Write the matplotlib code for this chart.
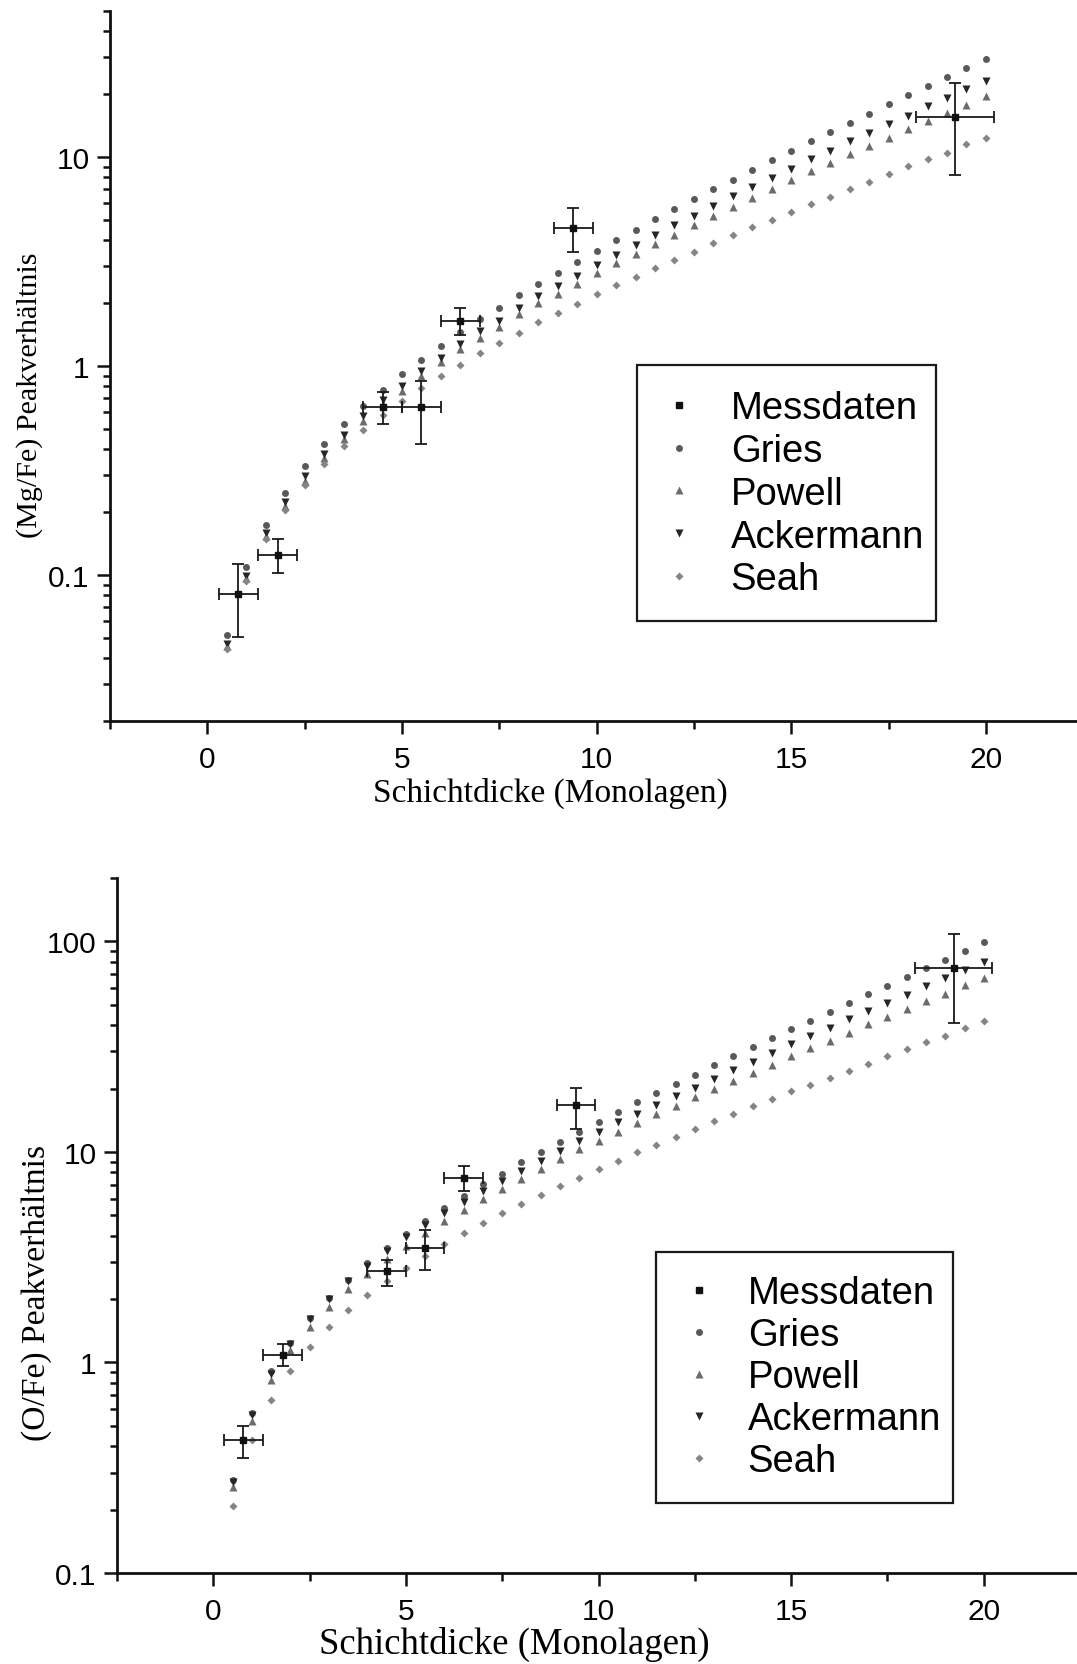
import matplotlib
matplotlib.use("Agg")
import numpy as np
import matplotlib.pyplot as plt
from matplotlib.ticker import LogLocator, MultipleLocator, FuncFormatter, NullFormatter
from matplotlib.patches import Rectangle

# ---------------------------------------------------------------------------
# Data
# ---------------------------------------------------------------------------
thickness = [0.5, 1.0, 1.5, 2.0, 2.5, 3.0, 3.5, 4.0, 4.5, 5.0,
             5.5, 6.0, 6.5, 7.0, 7.5, 8.0, 8.5, 9.0, 9.5, 10.0,
             10.5, 11.0, 11.5, 12.0, 12.5, 13.0, 13.5, 14.0, 14.5, 15.0,
             15.5, 16.0, 16.5, 17.0, 17.5, 18.0, 18.5, 19.0, 19.5, 20.0]

# (Mg/Fe) model curves
mg_gries = [0.0514, 0.109, 0.174, 0.247, 0.331, 0.422, 0.526, 0.643, 0.767, 0.912,
            1.07, 1.24, 1.45, 1.67, 1.90, 2.19, 2.47, 2.79, 3.16, 3.57,
            4.00, 4.49, 5.05, 5.64, 6.29, 7.03, 7.78, 8.66, 9.63, 10.7,
            11.9, 13.2, 14.6, 16.1, 17.9, 19.8, 21.9, 24.2, 26.7, 29.4]
mg_powell = [0.0456, 0.0962, 0.153, 0.214, 0.282, 0.361, 0.447, 0.547, 0.656, 0.759,
             0.893, 1.04, 1.21, 1.36, 1.53, 1.78, 2.00, 2.21, 2.47, 2.78,
             3.10, 3.44, 3.83, 4.25, 4.72, 5.21, 5.75, 6.37, 7.03, 7.76,
             8.54, 9.36, 10.3, 11.3, 12.4, 13.6, 14.9, 16.3, 17.8, 19.5]
mg_ackermann = [0.0466, 0.0988, 0.158, 0.224, 0.296, 0.379, 0.467, 0.574, 0.687, 0.800,
                0.949, 1.09, 1.28, 1.47, 1.65, 1.90, 2.16, 2.41, 2.71, 3.05,
                3.40, 3.81, 4.25, 4.72, 5.25, 5.82, 6.50, 7.18, 7.96, 8.79,
                9.75, 10.7, 11.9, 13.1, 14.4, 15.8, 17.5, 19.2, 21.2, 23.2]
mg_seah = [0.0444, 0.0936, 0.148, 0.205, 0.269, 0.338, 0.414, 0.492, 0.582, 0.677,
           0.785, 0.893, 1.01, 1.15, 1.29, 1.44, 1.62, 1.79, 1.98, 2.20,
           2.44, 2.68, 2.94, 3.22, 3.53, 3.86, 4.23, 4.62, 5.01, 5.47,
           5.96, 6.47, 7.05, 7.62, 8.30, 9.02, 9.75, 10.5, 11.5, 12.3]

# (Mg/Fe) measurements
mg_meas_x = [0.80, 1.81, 4.50, 5.50, 6.50, 9.40, 19.20]
mg_meas_xerr = [0.5, 0.5, 0.5, 0.5, 0.5, 0.5, 1.0]
mg_meas_y = [0.0815, 0.125, 0.638, 0.638, 1.65, 4.60, 15.5]
mg_meas_lo = [0.0507, 0.102, 0.526, 0.425, 1.41, 3.53, 8.22]
mg_meas_hi = [0.113, 0.148, 0.748, 0.851, 1.89, 5.70, 22.7]

# (O/Fe) model curves
o_gries = [0.277, 0.574, 0.91, 1.24, 1.63, 2.03, 2.47, 2.97, 3.51, 4.08,
           4.71, 5.42, 6.18, 7.03, 7.89, 8.91, 9.98, 11.2, 12.5, 13.9,
           15.4, 17.2, 19.0, 21.1, 23.3, 25.8, 28.6, 31.5, 34.6, 38.2,
           42.0, 46.2, 50.9, 56.0, 61.5, 67.7, 74.4, 81.8, 90.0, 98.9]
o_powell = [0.257, 0.529, 0.826, 1.14, 1.48, 1.84, 2.23, 2.63, 3.10, 3.59,
            4.12, 4.69, 5.31, 5.97, 6.68, 7.45, 8.32, 9.24, 10.3, 11.3,
            12.5, 13.7, 15.1, 16.5, 18.2, 19.9, 21.8, 23.8, 26.0, 28.4,
            31.0, 33.8, 36.9, 40.3, 43.8, 47.7, 52.1, 56.4, 61.8, 67.1]
o_ackermann = [0.272, 0.565, 0.88, 1.22, 1.60, 2.01, 2.43, 2.88, 3.40, 3.94,
               4.50, 5.14, 5.77, 6.53, 7.31, 8.16, 9.10, 10.1, 11.3, 12.5,
               13.8, 15.1, 16.7, 18.5, 20.2, 22.2, 24.5, 26.8, 29.6, 32.4,
               35.5, 38.9, 42.8, 46.7, 51.1, 55.8, 61.1, 66.7, 72.8, 79.8]
o_seah = [0.207, 0.427, 0.664, 0.914, 1.18, 1.47, 1.78, 2.09, 2.45, 2.81,
          3.22, 3.66, 4.10, 4.59, 5.10, 5.65, 6.23, 6.87, 7.55, 8.34,
          9.08, 9.94, 10.8, 11.8, 12.9, 14.0, 15.2, 16.5, 17.9, 19.4,
          20.9, 22.5, 24.3, 26.3, 28.5, 30.8, 33.3, 35.7, 38.6, 41.7]

# (O/Fe) measurements
o_meas_x = [0.78, 1.80, 4.50, 5.50, 6.50, 9.41, 19.22]
o_meas_xerr = [0.5, 0.5, 0.5, 0.5, 0.5, 0.5, 1.0]
o_meas_y = [0.429, 1.09, 2.71, 3.51, 7.50, 16.7, 74.8]
o_meas_lo = [0.353, 0.966, 2.32, 2.76, 6.49, 12.9, 41.1]
o_meas_hi = [0.498, 1.22, 3.07, 4.27, 8.53, 20.2, 108.0]

legend_labels = ["Messdaten", "Gries", "Powell", "Ackermann", "Seah"]
x_label = "Schichtdicke (Monolagen)"
y_label_mg = "(Mg/Fe) Peakverhältnis"
y_label_o = "(O/Fe) Peakverhältnis"

# ---------------------------------------------------------------------------
# Styling
# ---------------------------------------------------------------------------
SANS = "Liberation Sans"
SERIF = "Liberation Serif"
W, H = 1077, 1665

model_styles = [
    dict(marker="o", color="#595959", ms=5.0),   # Gries
    dict(marker="^", color="#6c6c6c", ms=5.8),   # Powell
    dict(marker="v", color="#262626", ms=5.8),   # Ackermann
    dict(marker="D", color="#858585", ms=3.9),   # Seah
]

fig = plt.figure(figsize=(W / 100, H / 100), dpi=100)
fig.patch.set_facecolor("white")


def px_axes(left, top, right, bottom):
    return [left / W, 1 - bottom / H, (right - left) / W, (bottom - top) / H]


def draw_panel(rect, xlim, ylim, models, mx, mxerr, my, mlo, mhi,
               ylabel, label_size, xlabel_pos, ylabel_pos,
               leg_anchor, leg_textpad, leg_spacing, frame_box):
    ax = fig.add_axes(rect)
    handles = []

    # measured values with error bars on top of the model points
    my_arr = np.array(my)
    yerr = [my_arr - np.array(mlo), np.array(mhi) - my_arr]
    ax.errorbar(mx, my, xerr=mxerr, yerr=yerr, fmt="none", ecolor="#1a1a1a",
                elinewidth=1.3, capsize=4.6, capthick=1.3, zorder=5)
    h_meas, = ax.plot(mx, my, ls="none", marker="s", ms=3.8, color="#111111",
                      zorder=6, label=legend_labels[0])
    handles.append(h_meas)

    for vals, st, lab in zip(models, model_styles, legend_labels[1:]):
        h, = ax.plot(thickness, vals, ls="none", marker=st["marker"],
                     ms=st["ms"], color=st["color"], mec="none", zorder=3,
                     label=lab)
        handles.append(h)

    ax.set_yscale("log")
    ax.set_xlim(*xlim)
    ax.set_ylim(*ylim)

    ax.xaxis.set_major_locator(MultipleLocator(5))
    ax.xaxis.set_minor_locator(MultipleLocator(2.5))
    ax.yaxis.set_major_locator(LogLocator(base=10, numticks=20))
    ax.yaxis.set_minor_locator(LogLocator(base=10, subs=np.arange(2, 10), numticks=20))
    ax.yaxis.set_major_formatter(FuncFormatter(lambda v, p: "%g" % v))
    ax.yaxis.set_minor_formatter(NullFormatter())
    ax.xaxis.set_major_formatter(FuncFormatter(lambda v, p: "%g" % v))

    for side in ("top", "right"):
        ax.spines[side].set_visible(False)
    for side in ("left", "bottom"):
        ax.spines[side].set_linewidth(2.0)
        ax.spines[side].set_color("#111111")

    ax.tick_params(which="major", direction="out", length=9.5, width=1.8,
                   color="#111111", labelsize=21.5, pad=5)
    ax.tick_params(which="minor", direction="out", length=5.4, width=1.8,
                   color="#111111")
    ax.tick_params(axis="x", which="major", pad=8)
    for lab in ax.get_xticklabels() + ax.get_yticklabels():
        lab.set_fontfamily(SANS)

    ax.set_xlabel(x_label, family=SERIF, fontsize=label_size, va="center")
    ax.xaxis.set_label_coords(*xlabel_pos)
    ax.set_ylabel(ylabel, family=SERIF, fontsize=label_size - 2.3,
                  va="center", ha="center")
    ax.yaxis.set_label_coords(*ylabel_pos)

    leg = ax.legend(handles=handles, loc="upper left",
                    bbox_to_anchor=(leg_anchor[0] / W, 1 - leg_anchor[1] / H),
                    bbox_transform=fig.transFigure, frameon=False,
                    borderpad=0, borderaxespad=0, handlelength=1.4,
                    handletextpad=leg_textpad, labelspacing=leg_spacing,
                    numpoints=1, prop=dict(family=SANS, size=27.5))
    leg.set_zorder(10)

    l, t, r, b = frame_box
    fig.add_artist(Rectangle((l / W, 1 - b / H), (r - l) / W, (b - t) / H,
                             transform=fig.transFigure, fill=False,
                             lw=1.6, ec="#1a1a1a", zorder=10))
    return ax


# upper panel: Mg/Fe
draw_panel(px_axes(110, 12, 1077, 722), (-2.5, 22.34), (0.02, 50),
           [mg_gries, mg_powell, mg_ackermann, mg_seah],
           mg_meas_x, mg_meas_xerr, mg_meas_y, mg_meas_lo, mg_meas_hi,
           y_label_mg, 24, (0.455, -0.100), (-0.0827, 0.4606),
           (652, 391), 0.66, 0.18, (637, 366, 936, 622))

# lower panel: O/Fe
draw_panel(px_axes(117, 879, 1077, 1574), (-2.5, 22.42), (0.1, 200),
           [o_gries, o_powell, o_ackermann, o_seah],
           o_meas_x, o_meas_xerr, o_meas_y, o_meas_lo, o_meas_hi,
           y_label_o, 26.5, (0.4135, -0.102), (-0.0833, 0.404),
           (672, 1276), 0.58, 0.16, (656, 1253, 953, 1504))

fig.savefig("out.png", dpi=100, facecolor="white")
